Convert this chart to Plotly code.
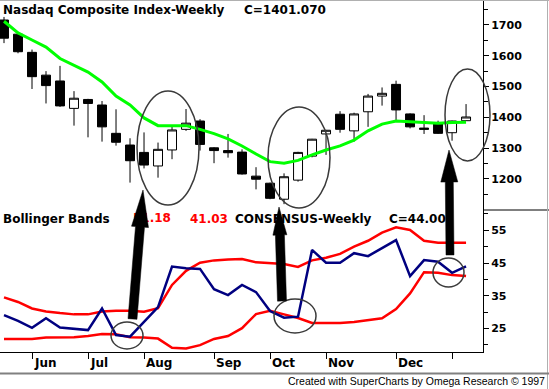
import plotly.graph_objects as go
import math

# ---------------- data ----------------
weeks = list(range(34))
opens  = [1716, 1670, 1611, 1537, 1518, 1429, 1458, 1440, 1348, 1310, 1286, 1242, 1294, 1361, 1388, 1301, 1292,
          1287, 1209, 1186, 1134, 1196, 1274, 1346, 1410, 1356, 1418, 1469, 1507, 1411, 1365, 1380, 1350, 1389]
highs  = [1726, 1674, 1620, 1550, 1567, 1485, 1460, 1453, 1426, 1332, 1351, 1318, 1369, 1427, 1394, 1303, 1346,
          1296, 1238, 1188, 1218, 1288, 1330, 1359, 1420, 1415, 1476, 1497, 1519, 1413, 1407, 1389, 1389, 1443]
lows   = [1641, 1608, 1492, 1445, 1434, 1373, 1335, 1321, 1308, 1188, 1234, 1204, 1264, 1356, 1292, 1251, 1269,
          1214, 1166, 1134, 1118, 1191, 1270, 1278, 1350, 1321, 1369, 1438, 1386, 1364, 1346, 1346, 1324, 1389]
closes = [1657, 1613, 1532, 1503, 1437, 1462, 1445, 1369, 1319, 1259, 1245, 1296, 1359, 1381, 1312, 1292, 1285,
          1216, 1199, 1137, 1207, 1286, 1329, 1358, 1361, 1411, 1469, 1478, 1424, 1369, 1361, 1348, 1388, 1401.07]
moving_avg = [1712, 1674, 1651, 1628, 1591, 1570, 1547, 1515, 1469, 1440, 1398, 1373, 1373, 1373, 1361, 1347, 1330,
              1307, 1281, 1256, 1251, 1260, 1278, 1294, 1307, 1326, 1356, 1378, 1388, 1386, 1382, 1381, 1383, 1384]

consensus = [29.1, 27.3, 25.2, 28.1, 25.3, 24.9, 24.5, 31.1, 23.0, 22.5, 27.0, 31.5, 43.9, 43.4, 43.2, 37.0, 35.2,
             38.3, 36.1, 30.3, 28.3, 28.6, 49.0, 45.1, 45.1, 48.0, 47.1, 49.5, 52.0, 41.0, 45.9, 45.4, 42.0, 44.0]
band_upper = [34.5, 33.1, 31.1, 30.2, 29.7, 29.3, 29.3, 30.2, 30.4, 30.4, 30.1, 31.2, 38.3, 42.6, 45.1, 45.8, 46.1,
              46.2, 45.2, 44.9, 44.7, 43.8, 45.8, 46.6, 47.8, 50.0, 51.8, 54.3, 55.9, 55.1, 51.8, 51.2, 51.2, 51.18]
band_lower = [21.8, 21.8, 21.8, 22.2, 22.2, 22.3, 22.7, 23.3, 23.2, 22.3, 22.2, 21.9, 19.1, 18.9, 19.9, 21.8, 22.7,
              25.1, 29.4, 30.4, 29.3, 28.2, 26.7, 26.7, 26.7, 27.0, 27.6, 28.1, 30.9, 35.7, 42.2, 42.0, 41.3, 41.03]

month_ticks = [2, 6, 10, 15, 19, 23, 28, 32]
month_labels = ["Jun", "Jul", "Aug", "Sep", "Oct", "Nov", "Dec", ""]

price_ticks = [1200, 1300, 1400, 1500, 1600, 1700]
cons_ticks = [25, 35, 45, 55]

title_top = "Nasdaq Composite Index-Weekly"
title_top_c = "C=1401.070"
title_low = "Bollinger Bands"
upper_txt = "51.18"
lower_txt = "41.03"
title_low2 = "CONSENSUS-Weekly"
title_low2_c = "C=44.00"
footer = "Created with SuperCharts by Omega Research \u00a9 1997"

# ---------------- layout helpers (pixel -> paper) ----------------
W_PLOT, H_PLOT = 483.0, 352.0
XR = [-0.286, 34.21]
def px(x):
    return x / W_PLOT
def py(y):
    return (H_PLOT - y) / H_PLOT
def dx(x):
    return XR[0] + x / W_PLOT * (XR[1] - XR[0])

split = py(210)
Y2R = [17.8, 61.2]
def dy2(y):
    return Y2R[0] + (352 - y) / 142.0 * (Y2R[1] - Y2R[0])

BOLD = dict(family="DejaVu Sans", size=12, color="black", weight="bold")

fig = go.Figure()

fig.add_trace(go.Candlestick(x=weeks, open=opens, high=highs, low=lows, close=closes,
                             increasing=dict(line=dict(color="black", width=1), fillcolor="white"),
                             decreasing=dict(line=dict(color="black", width=1), fillcolor="black"),
                             whiskerwidth=0, xaxis="x", yaxis="y"))
fig.add_trace(go.Scatter(x=weeks, y=moving_avg, mode="lines", line=dict(color="#00ff00", width=3),
                         xaxis="x", yaxis="y", hoverinfo="skip"))

fig.add_trace(go.Scatter(x=weeks, y=band_upper, mode="lines", line=dict(color="#ff0000", width=2.5),
                         xaxis="x", yaxis="y2"))
fig.add_trace(go.Scatter(x=weeks, y=band_lower, mode="lines", line=dict(color="#ff0000", width=2.5),
                         xaxis="x", yaxis="y2"))
fig.add_trace(go.Scatter(x=weeks, y=consensus, mode="lines", line=dict(color="#000080", width=2.5),
                         xaxis="x", yaxis="y2"))

# red value label as trace text (so the arrow can be drawn over it)
fig.add_trace(go.Scatter(x=[dx(133)], y=[dy2(219)], mode="text", text=[upper_txt], textposition="middle right",
                         textfont=dict(family="DejaVu Sans", size=12, color="#ff0000", weight="bold"),
                         xaxis="x", yaxis="y2", cliponaxis=False, hoverinfo="skip"))

annotations = []
def label(text, x, y, color="black", size=12, weight="bold", family="DejaVu Sans", anchor="left"):
    annotations.append(dict(text=text, x=px(x), y=py(y), xref="paper", yref="paper", showarrow=False,
                            xanchor=anchor, yanchor="middle",
                            font=dict(family=family, size=size, color=color, weight=weight)))

label(title_top, 1, 10)
label(title_top_c, 242, 10)
label(title_low, 1, 219)
label(lower_txt, 188, 219, color="#ff0000")
label(title_low2, 233, 219)
label(title_low2_c, 387, 219)
label(footer, 547, 381, size=10.5, weight="normal", family="Liberation Sans", anchor="right")

for t, lab in zip(month_ticks, month_labels):
    if lab:
        annotations.append(dict(text=lab, x=t, y=py(363), xref="x", yref="paper", showarrow=False,
                                xanchor="left", yanchor="middle", xshift=0, font=BOLD))

shapes = []
def ell(x0, x1, y0, y1):
    shapes.append(dict(type="circle", xref="paper", yref="paper", x0=px(x0), x1=px(x1), y0=py(y1), y1=py(y0),
                       line=dict(color="#3a3a3a", width=1.5), layer="above"))

ell(137, 199, 91, 205)
ell(268, 330, 107, 208)
ell(445, 490, 69, 161)
ell(111, 143, 322, 349)
ell(274, 316, 299, 333)
ell(433, 464, 258, 287)

def arrow(bx, by, tx, ty, sw, hw, hl):
    L = math.hypot(tx - bx, ty - by)
    ux, uy = (tx - bx) / L, (ty - by) / L
    nx, ny = -uy, ux
    hx, hy = tx - ux * hl, ty - uy * hl
    pts = [(bx + nx * sw / 2, by + ny * sw / 2), (hx + nx * sw / 2, hy + ny * sw / 2),
           (hx + nx * hw / 2, hy + ny * hw / 2), (tx, ty),
           (hx - nx * hw / 2, hy - ny * hw / 2), (hx - nx * sw / 2, hy - ny * sw / 2),
           (bx - nx * sw / 2, by - ny * sw / 2)]
    path = "M " + " L ".join(f"{px(a):.5f},{py(b):.5f}" for a, b in pts) + " Z"
    shapes.append(dict(type="path", xref="paper", yref="paper", path=path, fillcolor="black",
                       line=dict(color="black", width=0.5), layer="above"))

arrow(132.5, 319, 143, 190, 9, 17, 37)
arrow(282, 301, 279, 207, 9, 14, 28)
arrow(450, 255, 449, 150, 8, 17, 32)

# panel separator on the axis side, frame lines
shapes.append(dict(type="line", xref="paper", yref="paper", x0=1, x1=549 / W_PLOT, y0=split, y1=split,
                   line=dict(color="black", width=1)))
shapes.append(dict(type="line", xref="paper", yref="paper", x0=px(0), x1=px(549), y0=py(0.5), y1=py(0.5),
                   line=dict(color="#b0b0b0", width=1)))
shapes.append(dict(type="line", xref="paper", yref="paper", x0=px(547.5), x1=px(547.5), y0=py(0), y1=py(389),
                   line=dict(color="#b0b0b0", width=1)))
shapes.append(dict(type="line", xref="paper", yref="paper", x0=px(0), x1=px(549), y0=py(373.5), y1=py(373.5),
                   line=dict(color="#808080", width=2)))

fig.update_layout(
    width=549, height=389,
    margin=dict(l=0, r=66, t=0, b=37),
    paper_bgcolor="white", plot_bgcolor="white",
    showlegend=False,
    boxgap=0.2, boxgroupgap=0.2,
    annotations=annotations,
    shapes=shapes,
    xaxis=dict(range=XR, anchor="y2", showgrid=False, zeroline=False, showline=True, linecolor="black",
               linewidth=1, tickmode="array", tickvals=month_ticks, ticktext=[""] * len(month_ticks),
               ticks="outside", ticklen=6, tickcolor="black", rangeslider=dict(visible=False)),
    yaxis=dict(domain=[split, 1], range=[1099, 1781], side="right", anchor="x", showgrid=False, zeroline=False,
               showline=True, linecolor="black", linewidth=1, tickmode="array", tickvals=price_ticks,
               ticks="outside", ticklen=5, tickcolor="black",
               tickfont=dict(family="DejaVu Sans", size=11, color="black", weight="bold"),
               minor=dict(ticks="outside", ticklen=4, tickcolor="black", tickvals=[1150, 1250, 1350, 1450, 1550, 1650, 1750])),
    yaxis2=dict(domain=[0, split], range=Y2R, side="right", anchor="x", showgrid=False, zeroline=False,
                showline=True, linecolor="black", linewidth=1, tickmode="array", tickvals=cons_ticks,
                ticks="outside", ticklen=5, tickcolor="black",
                tickfont=dict(family="DejaVu Sans", size=11, color="black", weight="bold"),
                minor=dict(ticks="outside", ticklen=4, tickcolor="black", tickvals=[20, 30, 40, 50, 60])),
)

fig.write_html("out.html", config={"displayModeBar": False},
               post_script="document.body.style.margin='0';document.body.style.overflow='hidden';")
